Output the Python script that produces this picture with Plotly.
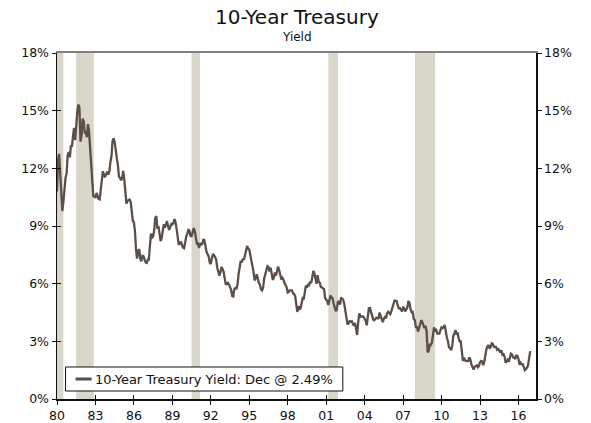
import plotly.graph_objects as go

# Monthly 10-Year Treasury yield (%), Jan 1980 - Dec 2016
yields_by_year = {
    1980: [10.80, 12.41, 12.75, 11.47, 10.18, 9.78, 10.25, 11.10, 11.51, 11.75, 12.68, 12.84],
    1981: [12.57, 13.19, 13.12, 13.68, 14.10, 13.47, 14.28, 14.94, 15.32, 15.15, 13.39, 13.72],
    1982: [14.59, 14.43, 13.86, 13.87, 13.62, 14.30, 13.95, 13.06, 12.34, 10.91, 10.55, 10.54],
    1983: [10.46, 10.72, 10.51, 10.40, 10.38, 10.85, 11.38, 11.85, 11.65, 11.54, 11.69, 11.83],
    1984: [11.67, 11.84, 12.32, 12.63, 13.41, 13.56, 13.36, 12.72, 12.52, 12.16, 11.57, 11.50],
    1985: [11.38, 11.51, 11.86, 11.43, 10.85, 10.16, 10.31, 10.33, 10.37, 10.24, 9.78, 9.26],
    1986: [9.19, 8.70, 7.78, 7.30, 7.71, 7.80, 7.30, 7.17, 7.45, 7.43, 7.25, 7.11],
    1987: [7.08, 7.25, 7.25, 8.02, 8.61, 8.40, 8.45, 8.76, 9.42, 9.52, 8.86, 8.99],
    1988: [8.67, 8.21, 8.37, 8.72, 9.09, 8.92, 9.06, 9.26, 8.98, 8.80, 8.96, 9.11],
    1989: [9.09, 9.17, 9.36, 9.18, 8.86, 8.28, 8.02, 8.11, 8.19, 8.01, 7.87, 7.84],
    1990: [8.21, 8.47, 8.59, 8.79, 8.76, 8.48, 8.47, 8.75, 8.89, 8.72, 8.39, 8.08],
    1991: [8.09, 7.85, 8.11, 8.04, 8.07, 8.28, 8.27, 7.90, 7.65, 7.53, 7.42, 7.09],
    1992: [7.03, 7.34, 7.54, 7.48, 7.39, 7.26, 6.84, 6.59, 6.42, 6.59, 6.87, 6.77],
    1993: [6.60, 6.26, 5.98, 5.97, 6.04, 5.96, 5.81, 5.68, 5.36, 5.33, 5.72, 5.77],
    1994: [5.75, 5.97, 6.48, 6.97, 7.18, 7.10, 7.30, 7.24, 7.46, 7.74, 7.96, 7.81],
    1995: [7.78, 7.47, 7.20, 7.06, 6.63, 6.17, 6.28, 6.49, 6.20, 6.04, 5.93, 5.71],
    1996: [5.65, 5.81, 6.27, 6.51, 6.74, 6.91, 6.87, 6.64, 6.83, 6.53, 6.20, 6.30],
    1997: [6.58, 6.42, 6.69, 6.89, 6.71, 6.49, 6.22, 6.30, 6.21, 6.03, 5.88, 5.81],
    1998: [5.54, 5.57, 5.65, 5.64, 5.65, 5.50, 5.46, 5.34, 4.81, 4.53, 4.83, 4.65],
    1999: [4.72, 5.00, 5.23, 5.18, 5.54, 5.90, 5.79, 5.94, 5.92, 6.11, 6.03, 6.28],
    2000: [6.66, 6.52, 6.26, 5.99, 6.44, 6.10, 6.05, 5.83, 5.80, 5.74, 5.72, 5.24],
    2001: [5.16, 5.10, 4.89, 5.14, 5.39, 5.28, 5.24, 4.97, 4.73, 4.57, 4.65, 5.09],
    2002: [5.04, 4.91, 5.28, 5.21, 5.16, 4.93, 4.65, 4.26, 3.87, 3.94, 4.05, 4.03],
    2003: [4.05, 3.90, 3.81, 3.96, 3.57, 3.33, 3.98, 4.45, 4.27, 4.29, 4.30, 4.27],
    2004: [4.15, 4.08, 3.83, 4.35, 4.72, 4.73, 4.50, 4.28, 4.13, 4.10, 4.19, 4.23],
    2005: [4.22, 4.17, 4.50, 4.34, 4.14, 4.00, 4.18, 4.26, 4.20, 4.46, 4.54, 4.47],
    2006: [4.42, 4.57, 4.72, 4.99, 5.11, 5.11, 5.09, 4.88, 4.72, 4.73, 4.60, 4.56],
    2007: [4.76, 4.72, 4.56, 4.69, 4.75, 5.10, 5.00, 4.67, 4.52, 4.53, 4.15, 4.10],
    2008: [3.74, 3.74, 3.51, 3.68, 3.88, 4.10, 4.01, 3.89, 3.69, 3.81, 3.53, 2.42],
    2009: [2.52, 2.87, 2.82, 2.93, 3.29, 3.72, 3.56, 3.59, 3.40, 3.39, 3.40, 3.59],
    2010: [3.73, 3.69, 3.73, 3.85, 3.42, 3.20, 3.01, 2.70, 2.65, 2.54, 2.76, 3.29],
    2011: [3.39, 3.58, 3.41, 3.46, 3.17, 3.00, 3.00, 2.30, 1.98, 2.15, 2.01, 1.98],
    2012: [1.97, 1.97, 2.17, 2.05, 1.80, 1.62, 1.53, 1.68, 1.72, 1.75, 1.65, 1.72],
    2013: [1.91, 1.98, 1.96, 1.76, 1.93, 2.30, 2.58, 2.74, 2.81, 2.62, 2.72, 2.90],
    2014: [2.86, 2.71, 2.72, 2.71, 2.56, 2.60, 2.54, 2.42, 2.53, 2.30, 2.33, 2.21],
    2015: [1.88, 1.98, 2.04, 1.94, 2.20, 2.36, 2.32, 2.17, 2.17, 2.07, 2.26, 2.24],
    2016: [2.09, 1.78, 1.89, 1.81, 1.81, 1.64, 1.50, 1.56, 1.63, 1.76, 2.14, 2.49],
}

dates = []
yields = []
for yr, vals in yields_by_year.items():
    for m, v in enumerate(vals, start=1):
        dates.append(f"{yr}-{m:02d}-01")
        yields.append(v)

recession_starts = ["1980-01-01", "1981-07-01", "1990-07-01", "2001-03-01", "2007-12-01"]
recession_ends = ["1980-07-01", "1982-11-15", "1991-03-01", "2001-12-01", "2009-07-01"]

y_tickvals = [0, 3, 6, 9, 12, 15, 18]
y_ticktext = ["0%", "3%", "6%", "9%", "12%", "15%", "18%"]

title_text = "10-Year Treasury"
subtitle_text = "Yield"
legend_text = "10-Year Treasury Yield: Dec @ 2.49%"

LINE_COLOR = "#5b4f47"
SHADE = "#d9d6ca"
FONT = "DejaVu Sans"
X_RANGE = ["1980-01-01", "2017-05-15"]
Y_RANGE = [0, 18]

fig = go.Figure()
fig.add_trace(go.Scatter(x=dates, y=yields, mode="lines",
                         line=dict(color=LINE_COLOR, width=2.3),
                         showlegend=False, hoverinfo="skip"))
# invisible helpers so the overlay axes get drawn
fig.add_trace(go.Scatter(x=dates, y=yields, mode="lines", xaxis="x2", yaxis="y3",
                         line=dict(width=0), opacity=0, showlegend=False, hoverinfo="skip"))
fig.add_trace(go.Scatter(x=dates, y=yields, mode="lines", xaxis="x3", yaxis="y2",
                         line=dict(width=0), opacity=0, showlegend=False, hoverinfo="skip"))

for s, e in zip(recession_starts, recession_ends):
    fig.add_shape(type="rect", xref="x", yref="y", x0=s, x1=e, y0=Y_RANGE[0], y1=Y_RANGE[1],
                  fillcolor=SHADE, line=dict(width=0), layer="below")

tickfont = dict(family=FONT, size=12.5, color="#111")
xcommon = dict(type="date", range=X_RANGE, tick0="1980-01-01", dtick="M36", tickformat="%y",
               showgrid=False, zeroline=False, ticklen=4, tickwidth=1, tickcolor="#111",
               tickfont=tickfont, automargin=False, fixedrange=True)
ycommon = dict(range=Y_RANGE, tickvals=y_tickvals, ticktext=y_ticktext, showgrid=False,
               zeroline=False, ticklen=4, tickwidth=1, tickcolor="#111", tickfont=tickfont,
               automargin=False, fixedrange=True)

fig.update_layout(
    width=591, height=423,
    margin=dict(l=57, r=55, t=53, b=24, autoexpand=False),
    paper_bgcolor="white", plot_bgcolor="white",
    font=dict(family=FONT, color="#111"),
    xaxis=dict(**xcommon, ticks="outside", showline=True, linecolor="#111", linewidth=1.5,
               anchor="y"),
    xaxis2=dict(**xcommon, ticks="inside", showticklabels=False, showline=False,
                overlaying="x", side="bottom", anchor="y"),
    xaxis3=dict(**xcommon, ticks="", showticklabels=False, showline=True, linecolor="#808080",
                linewidth=1.8, overlaying="x", side="top", anchor="y"),
    yaxis=dict(**ycommon, ticks="outside", showline=True, linecolor="#111", linewidth=1.5,
               side="left", anchor="x"),
    yaxis2=dict(**ycommon, ticks="outside", showline=True, linecolor="#111", linewidth=1.5,
                overlaying="y", side="right", anchor="x"),
    yaxis3=dict(**ycommon, ticks="inside", showticklabels=False, showline=False,
                overlaying="y", side="left", anchor="x"),
    showlegend=False,
)

# title and subtitle
fig.add_annotation(text=title_text, xref="paper", yref="paper", x=0.5, y=1.103,
                   xanchor="center", yanchor="middle", showarrow=False,
                   font=dict(family=FONT, size=20, color="#111"))
fig.add_annotation(text=subtitle_text, xref="paper", yref="paper", x=0.5, y=1.047,
                   xanchor="center", yanchor="middle", showarrow=False,
                   font=dict(family=FONT, size=12, color="#111"))

# legend box
fig.add_shape(type="rect", xref="paper", yref="paper", x0=0.0178, x1=0.5967, y0=0.0231, y1=0.0925,
              fillcolor="white", line=dict(color="#111", width=1), layer="above")
fig.add_shape(type="line", xref="paper", yref="paper", x0=0.0387, x1=0.0721, y0=0.0578, y1=0.0578,
              line=dict(color=LINE_COLOR, width=3), layer="above")
fig.add_annotation(text=legend_text, xref="paper", yref="paper", x=0.0742, y=0.0578,
                   xanchor="left", yanchor="middle", showarrow=False,
                   font=dict(family=FONT, size=13, color="#111"))

fig.write_html("out.html", config={"displayModeBar": False, "staticPlot": True},
               post_script="document.body.style.margin='0';document.body.style.overflow='hidden';")
